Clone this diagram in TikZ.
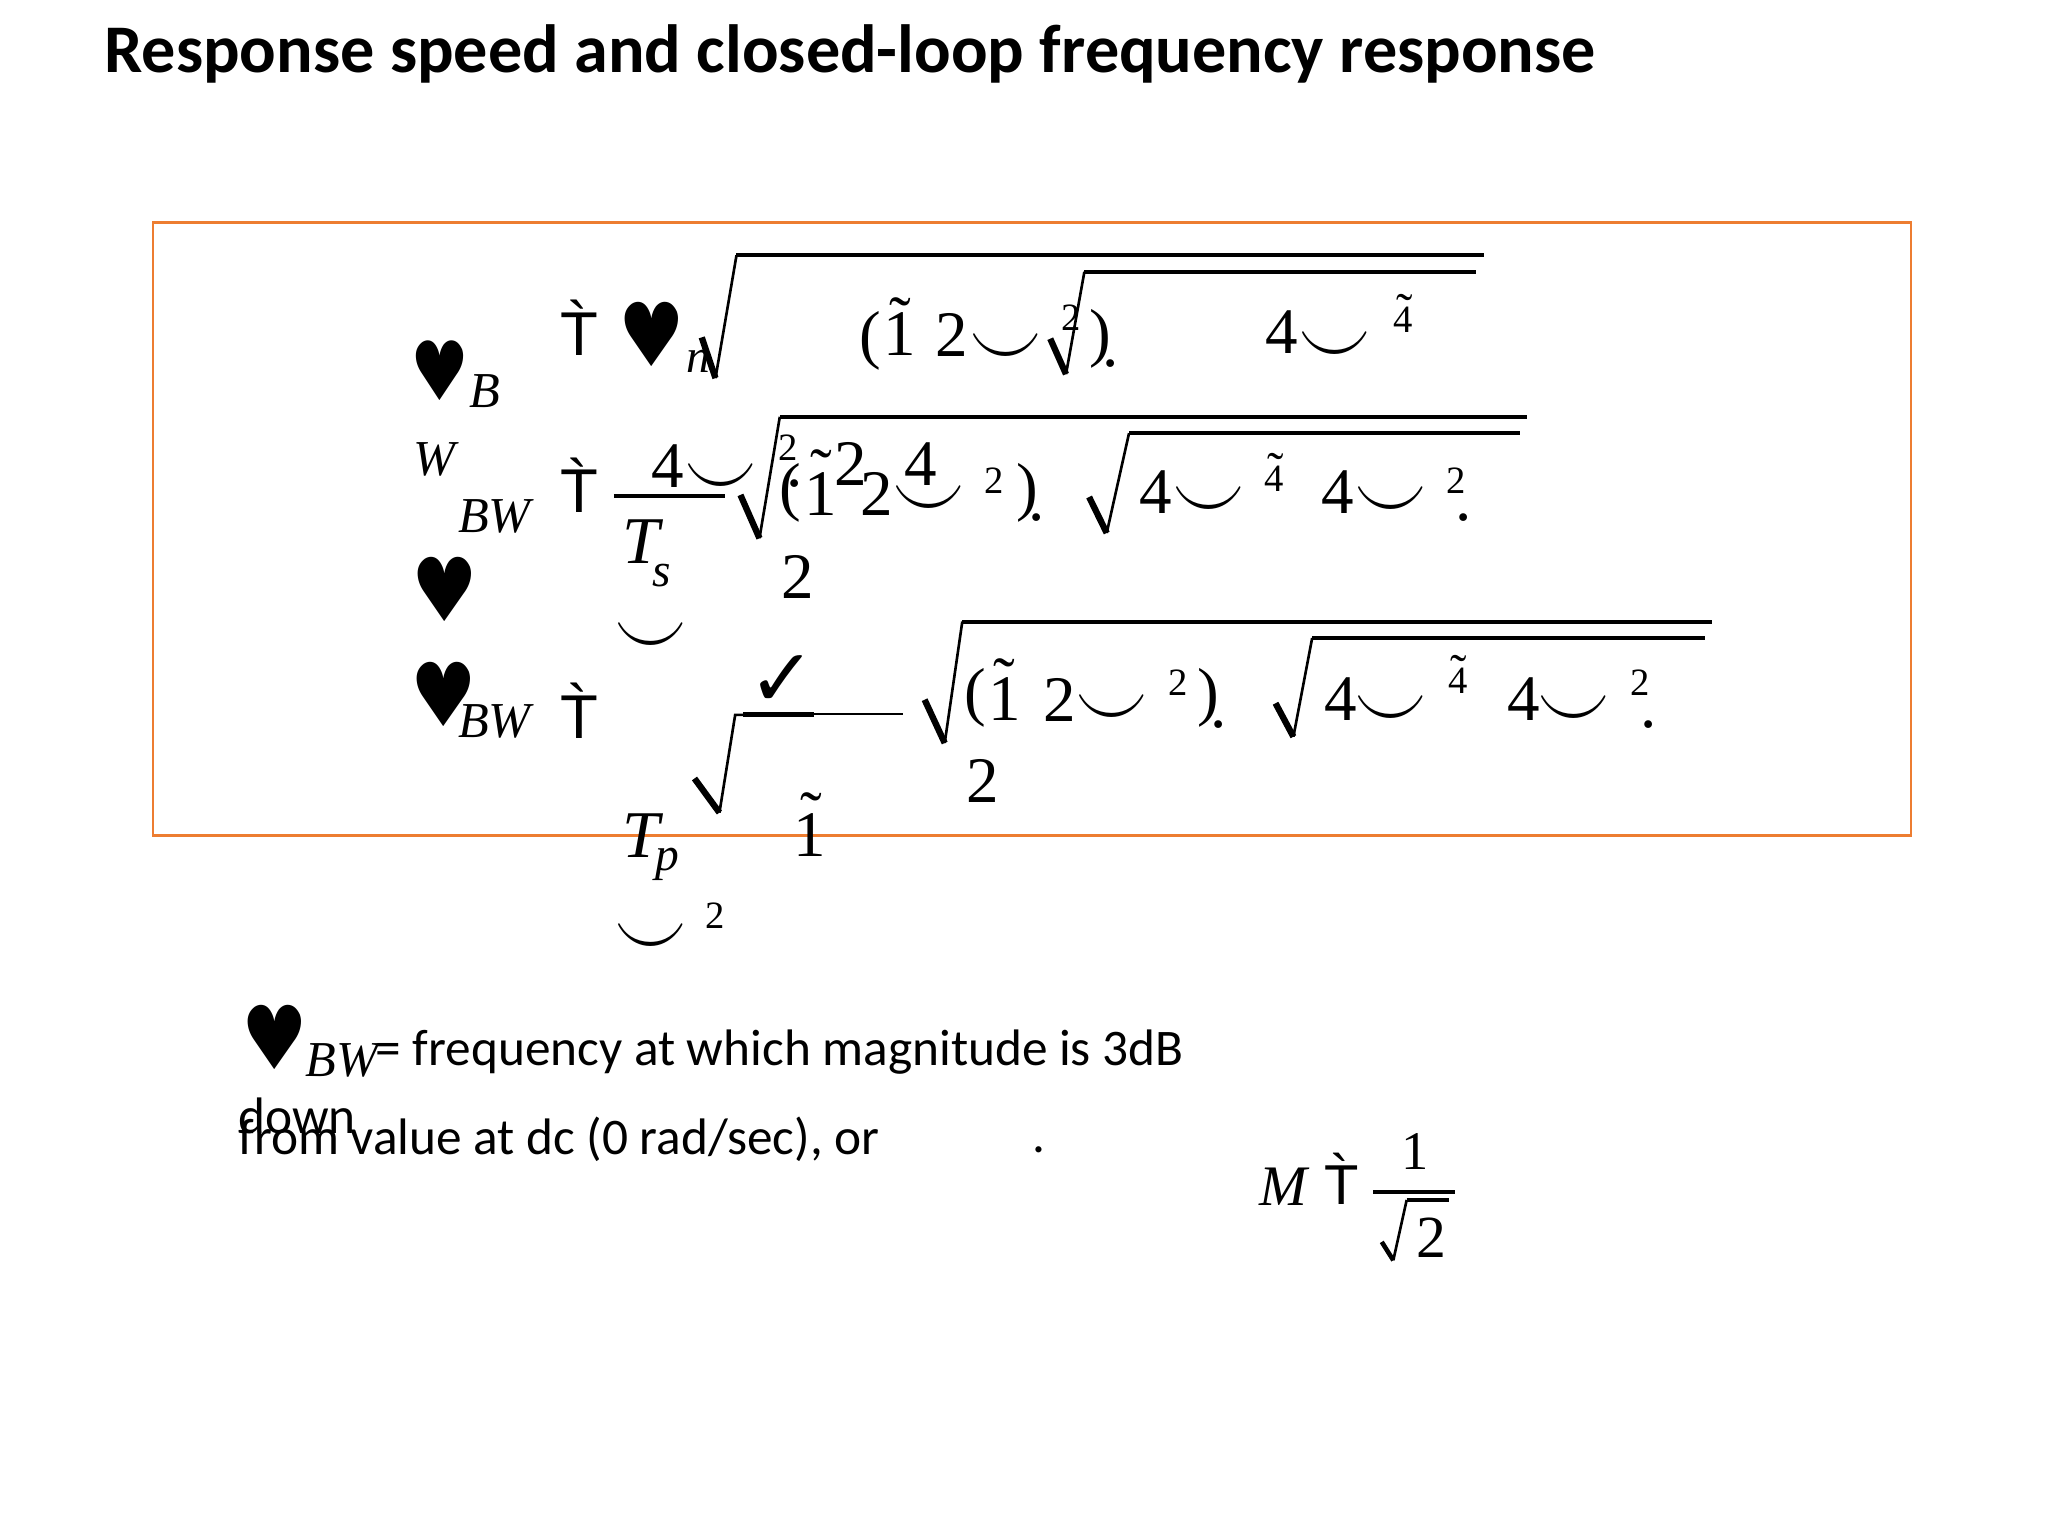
\documentclass[tikz,border=0pt]{standalone}
\usepackage{fontspec}
\usepackage{graphicx}
\setmainfont{Liberation Serif}
\newfontfamily\symf{DejaVu Sans}
\newfontfamily\sansf[Ligatures=TeXOff]{Liberation Sans}
\newfontfamily\calf{Carlito}
\newcommand\sz[1]{\fontsize{#1}{#1}\selectfont}
\newcommand\tld{\char"02DC\relax}
\newcommand\grv{\char"0060\relax}
\newcommand\smi{\scalebox{1.22}[1.6]{$\smile$}}
\newcommand\hrtA{\scalebox{0.96}[1.14]{♥}}
\newcommand\hrtB{\scalebox{0.85}[1.06]{♥}}
\definecolor{boxorange}{HTML}{ED7D31}
\begin{document}
\begin{tikzpicture}[x=0.13128mm,y=-0.13128mm,
 g/.style={inner sep=0pt,outer sep=0pt,anchor=center},
 mn/.style={g,font=\sz{18.5pt}},
 sp/.style={g,font=\sz{11pt}},
 tls/.style={g,anchor=north,font=\sz{14pt}},
 tlm/.style={g,anchor=north,font=\sz{18.5pt}},
 eqs/.style={g,font=\sansf\sz{17.6pt}},
 grs/.style={g,anchor=north,font=\sansf\sz{17.6pt}},
 hrt/.style={g,font=\symf\sz{22pt}},
 it/.style={g,font=\itshape\sz{14.3pt}},
 itb/.style={g,font=\itshape\sz{19pt}},
 its/.style={g,font=\itshape\sz{13.5pt}},
 smi/.style={g,font=\sz{17pt}},
 lbl/.style={inner sep=0pt,anchor=base west},
 rk/.style={line width=1.8pt},
 rn/.style={line width=0.75pt},
 rb/.style={line width=1.1pt}]
\useasboundingbox (0,0) rectangle (1560,1170);
\fill[white] (0,0) rectangle (1560,1170);
% title
\node[lbl,font=\calf\bfseries\sz{19.4pt}] (title) at (79,55) {Response speed and closed-loop frequency response};
% box
\draw[boxorange,line width=0.8pt] (116.5,169.2) rectangle (1455.7,636.7);
% left labels
\node[hrt] (h1) at (335.2,282.5) {\hrtB};
\node[it] (lB) at (369.3,297.7) {B};
\node[it] (lW) at (330.6,349.6) {W};
% equal-sign glyphs
\node[eqs] (e1) at (441.3,254.3) {T};
\node[grs] (e1g) at (440,228.5) {\grv};
\node[eqs] (e2) at (441.3,374.2) {T};
\node[grs] (e2g) at (440,349) {\grv};
\node[eqs] (e3) at (441.3,546) {T};
\node[grs] (e3g) at (440,520.5) {\grv};
% row 1 (left part)
\node[hrt] (h4) at (496.3,254.5) {\hrtA};
\node[its] (n1) at (532,275) {n};
\node[mn] (a1) at (663,259.5) {(};
\node[mn] (a2) at (685,254.5) {1};
\node[tlm] (a3) at (685.5,227) {\tld};
\node[mn] (a4) at (725,255) {2};
\node[smi] (a5) at (766,268) {\smi};
% radicals
\draw[rk] (534.5,257) -- (545,288);
\draw[rn] (545,288) -- (561,194.5);
\draw[rb] (561,194.5) -- (1130,194.5);
\draw[rk] (800,258) -- (812,285);
\draw[rn] (812,285) -- (826,207);
\draw[rb] (826,207) -- (1124,207);
\draw[rk] (564,377) -- (578.5,410);
\draw[rn] (578.5,410) -- (594,317.5);
\draw[rb] (594,317.5) -- (1163,317.5);
\draw[rk] (829.6,378.6) -- (843,406);
\draw[rn] (843,406) -- (860,330);
\draw[rb] (860,330) -- (1158,330);
\draw[rk] (704.3,533) -- (719.6,566);
\draw[rn] (719.6,566) -- (733,473.5);
\draw[rb] (733,473.5) -- (1304,473.5);
\draw[rk] (971.6,535.7) -- (985.2,561.2);
\draw[rn] (985.2,561.2) -- (999.5,486);
\draw[rb] (999.5,486) -- (1299,486);
% row 3 small radical and check
\node[g,font=\symf\sz{23pt}] (c1) at (596,519) {✓};
\draw[rk] (529,593) -- (548,619);
\draw[rn] (548,619) -- (560,544.5) -- (566,544.5);
\draw[line width=1.4pt] (566,544) -- (620,544);
\draw[rn] (620,544) -- (688,544);
% bottom formula
\node[g,font=\itshape\sz{16.3pt}] (m1) at (977.5,904.3) {M};
\node[g,font=\sansf\sz{16pt}] (m2) at (1022,903) {T};
\node[g,anchor=north,font=\sansf\sz{16pt}] (m2g) at (1020.5,878) {\grv};
\node[g,font=\sz{15.5pt}] (m3) at (1077.8,877) {1};
\draw[rb] (1046,908) -- (1108,908);
\draw[line width=1.3pt] (1052.5,946) -- (1061.3,960);
\draw[rn] (1061.3,960) -- (1071.5,914);
\draw[rb] (1071.5,914) -- (1104,914);
\node[g,font=\sz{17pt}] (m4) at (1090.4,942.6) {2};
\begin{scope}[scale=0.995]
\node[it] (lBW) at (378.5,395) {BW};
\node[hrt] (h2) at (340.5,451.5) {\hrtA};
\node[hrt] (h3) at (340,531.5) {\hrtA};
\node[it] (lBW3) at (378.5,552.5) {BW};
% row 1 (right part)
\node[sp] (a6) at (820,243) {2};
\node[mn] (a7) at (842,259.5) {)};
\node[mn] (a8) at (850,278) {.};
\node[mn] (a9) at (981,254.5) {4};
\node[smi] (a10) at (1022,268) {\smi};
\node[sp] (a11) at (1074.5,244.5) {4};
\node[tls] (a12) at (1075.5,225) {\tld};
% row 2
\node[mn] (b1) at (511.5,356.5) {4};
\node[smi] (b2) at (552,369) {\smi};
\draw[rb] (470,380) -- (555,380);
\node[itb] (b3) at (491,415) {T};
\node[its] (b4) at (506.5,441) {s};
\node[sp] (b5) at (603.5,343) {2};
\node[mn] (b6) at (605,377.5) {(};
\node[mn] (b7) at (608,370) {.};
\node[mn] (b8) at (628,378.5) {1};
\node[tlm] (b9) at (628.5,344) {\tld};
\node[mn] (b10) at (651.5,355) {2};
\node[mn] (b11) at (671,378.5) {2};
\node[mn] (b12) at (704.5,355) {4};
\node[smi] (b13) at (711,386) {\smi};
\node[sp] (b14) at (761,368) {2};
\node[mn] (b15) at (786.5,377.5) {)};
\node[mn] (b16) at (793.5,396.5) {.};
\node[mn] (b17) at (611,441.5) {2};
\node[mn] (b18) at (885,376.5) {4};
\node[smi] (b19) at (925,387) {\smi};
\node[sp] (b20) at (975.5,366.5) {4};
\node[tls] (b21) at (976.5,347) {\tld};
\node[mn] (b22) at (1024,376.5) {4};
\node[smi] (b23) at (1065,387) {\smi};
\node[sp] (b24) at (1114.5,368) {2};
\node[mn] (b25) at (1120.5,396.5) {.};
\node[smi] (b26) at (498.5,491) {\smi};
% row 3
\node[itb] (c2) at (491,639.5) {T};
\node[its] (c3) at (511,662) {p};
\node[mn] (c4) at (620,639.5) {1};
\node[tlm] (c5) at (621,607) {\tld};
\node[sp] (c6) at (547.5,701) {2};
\node[smi] (c7) at (498.5,721) {\smi};
\node[mn] (c8) at (747,534) {(};
\node[mn] (c9) at (769,535.5) {1};
\node[tlm] (c10) at (769,504) {\tld};
\node[mn] (c11) at (811,535.5) {2};
\node[smi] (c12) at (851,546) {\smi};
\node[sp] (c13) at (902,523) {2};
\node[mn] (c14) at (925,534) {)};
\node[mn] (c15) at (933,555) {.};
\node[mn] (c16) at (752.5,597.5) {2};
\node[mn] (c17) at (1026.5,535.5) {4};
\node[smi] (c18) at (1065,547) {\smi};
\node[sp] (c19) at (1116,521) {4};
\node[tls] (c20) at (1116.5,502) {\tld};
\node[mn] (c21) at (1166.5,535.5) {4};
\node[smi] (c22) at (1205,547) {\smi};
\node[sp] (c23) at (1256,522.5) {2};
\node[mn] (c24) at (1262,555) {.};
% bottom text
\node[hrt] (h5) at (210,794) {\hrtA};
\node[it] (dBW) at (262,811.5) {BW};
\node[lbl,font=\calf\sz{14.6pt}] (d1) at (287,816) {= frequency at which magnitude is 3dB};
\node[lbl,font=\calf\sz{14.6pt}] (d2) at (182,868) {down};
\node[lbl,font=\calf\sz{14.6pt}] (d3) at (182,884) {from value at dc (0 rad/sec), or};
\node[g,font=\calf\sz{14.6pt}] (d4) at (795,880) {.};
\end{scope}
\end{tikzpicture}
\end{document}
